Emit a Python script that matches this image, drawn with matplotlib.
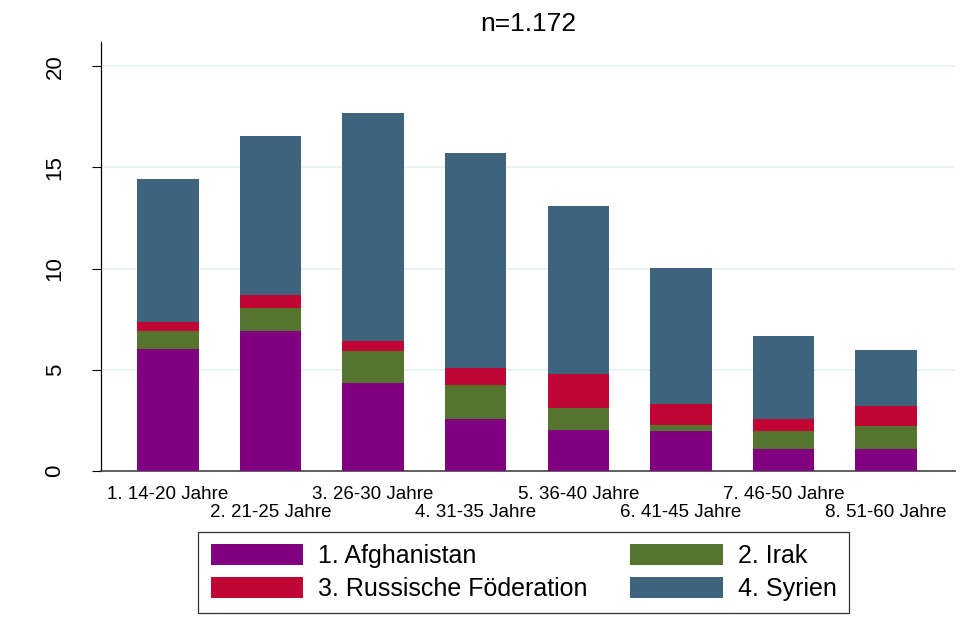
import matplotlib
matplotlib.use("Agg")
import matplotlib.pyplot as plt
import numpy as np
from matplotlib.patches import Patch

plt.rcParams["font.family"] = ["Liberation Sans", "DejaVu Sans"]

# values (percent)
age_groups = ["1. 14-20 Jahre", "2. 21-25 Jahre", "3. 26-30 Jahre", "4. 31-35 Jahre",
              "5. 36-40 Jahre", "6. 41-45 Jahre", "7. 46-50 Jahre", "8. 51-60 Jahre"]
afghanistan = [6.03, 6.91, 4.37, 2.57, 2.04, 1.98, 1.09, 1.09]
irak = [0.88, 1.14, 1.57, 1.70, 1.09, 0.30, 0.87, 1.14]
russland = [0.43, 0.66, 0.46, 0.84, 1.65, 1.05, 0.60, 1.00]
syrien = [7.09, 7.86, 11.28, 10.60, 8.31, 6.69, 4.13, 2.76]

series = [
    ("1. Afghanistan", afghanistan, "#800080"),
    ("2. Irak", irak, "#55752f"),
    ("3. Russische Föderation", russland, "#c10534"),
    ("4. Syrien", syrien, "#3e647d"),
]

fig = plt.figure(figsize=(9.68, 6.44), dpi=100)
ax = fig.add_axes([101 / 968, 1 - 471 / 644, (955 - 101) / 968, (471 - 42) / 644])

x = np.arange(len(age_groups))
bottom = np.zeros(len(age_groups))
for label, values, color in series:
    ax.bar(x, values, bottom=bottom, width=0.6, color=color, label=label,
           linewidth=0, zorder=3)
    bottom += np.array(values)

ax.set_xlim(-0.65, 7.67)
ax.set_ylim(0, 21.2)
ax.set_yticks([0, 5, 10, 15, 20])
ax.set_yticklabels(["0", "5", "10", "15", "20"], rotation=90, va="center", fontsize=16)
ax.tick_params(axis="y", length=6.5, width=0.8, pad=19)
ax.yaxis.grid(True, color="#eaf2f3", linewidth=1.5, zorder=0)
for line in ax.get_ygridlines()[:1]:
    line.set_visible(False)

ax.set_xticks(x)
ax.set_xticklabels(age_groups, fontsize=13.5)
ax.tick_params(axis="x", length=0)
for i, tick in enumerate(ax.xaxis.get_major_ticks()):
    tick.set_pad(11 if i % 2 == 0 else 24)

ax.spines["top"].set_visible(False)
ax.spines["right"].set_visible(False)
ax.spines["left"].set_linewidth(0.9)
ax.spines["bottom"].set_color("#444444")
ax.spines["bottom"].set_linewidth(1.2)

ax.set_title("n=1.172", fontsize=19, pad=8)

# legend fills column-wise: put Afghanistan/Russ in column 1, Irak/Syrien in column 2
order = [0, 2, 1, 3]
handles = [Patch(facecolor=series[i][2], label=series[i][0]) for i in order]
leg = fig.legend(handles=handles, ncol=2, loc="center", bbox_to_anchor=(523.5 / 968, 1 - 572.5 / 644),
                 fontsize=18, frameon=True, fancybox=False, edgecolor="black",
                 handlelength=3.7, handleheight=0.9, handletextpad=0.6,
                 columnspacing=1.7, labelspacing=0.35, borderpad=0.5)
leg.get_frame().set_linewidth(0.9)

fig.savefig("out.png", dpi=100)
